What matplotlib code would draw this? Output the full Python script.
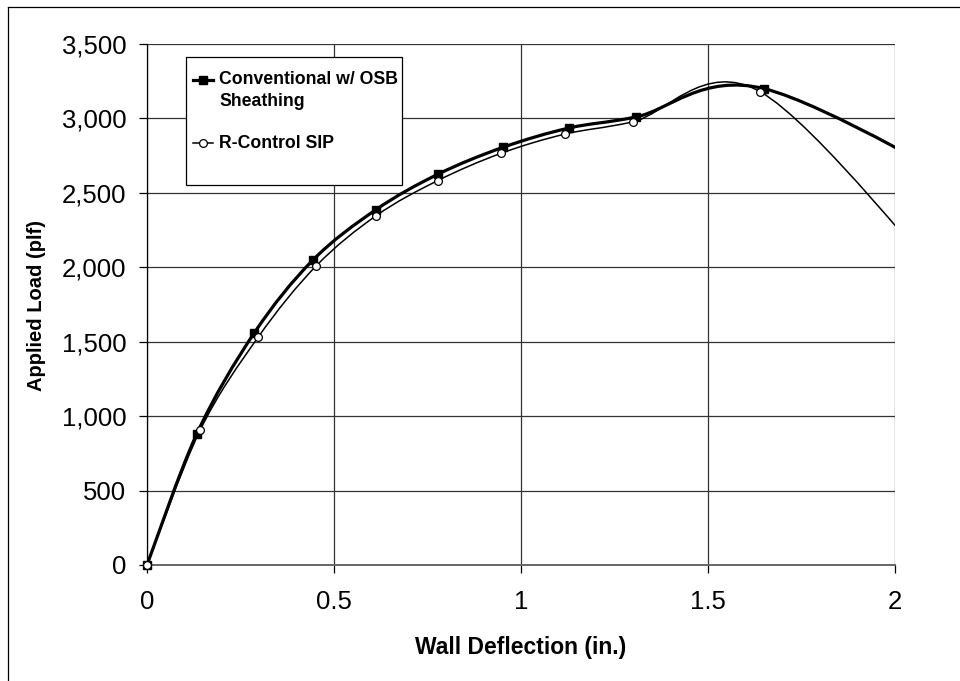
import matplotlib
matplotlib.use("Agg")
import matplotlib.pyplot as plt
from matplotlib.path import Path
from matplotlib.patches import PathPatch, Rectangle
from matplotlib.lines import Line2D
from matplotlib.ticker import FuncFormatter

# --- data (last point of each series lies past the x-axis end) ---
conv_x = [0, 0.133, 0.286, 0.443, 0.611, 0.777, 0.952, 1.129, 1.308, 1.650, 2.30]
conv_y = [0, 880, 1556, 2047, 2385, 2624, 2806, 2936, 3010, 3200, 2400]

sip_x = [0, 0.142, 0.297, 0.453, 0.613, 0.777, 0.947, 1.118, 1.299, 1.639, 2.20]
sip_y = [0, 905, 1530, 2011, 2347, 2582, 2766, 2895, 2977, 3180, 1700]

conv_label = "Conventional w/ OSB\nSheathing"
sip_label = "R-Control SIP"

x_ticks = [0, 0.5, 1, 1.5, 2]
y_ticks = [0, 500, 1000, 1500, 2000, 2500, 3000, 3500]
x_max = 2
y_max = 3500

plt.rcParams["font.family"] = ["Liberation Sans", "DejaVu Sans"]


def smooth_path(xs, ys):
    """Excel-style smoothed line: cubic Bezier through every point (tension 1/6)."""
    pts = list(zip(xs, ys))
    n = len(pts)
    verts = [pts[0]]
    codes = [Path.MOVETO]
    for i in range(n - 1):
        p0 = pts[i - 1] if i > 0 else pts[i]
        p1 = pts[i]
        p2 = pts[i + 1]
        p3 = pts[i + 2] if i + 2 < n else pts[i + 1]
        c1 = (p1[0] + (p2[0] - p0[0]) / 6, p1[1] + (p2[1] - p0[1]) / 6)
        c2 = (p2[0] - (p3[0] - p1[0]) / 6, p2[1] - (p3[1] - p1[1]) / 6)
        verts += [c1, c2, p2]
        codes += [Path.CURVE4] * 3
    return Path(verts, codes)


fig = plt.figure(figsize=(9.6, 6.81), dpi=100)
ax = fig.add_axes([147 / 960, 1 - 565 / 681, 748 / 960, 521 / 681])

# outer chart-area border (only top and left edges are inside the image)
fig.add_artist(Line2D([8 / 960, 8 / 960], [0, 1 - 7 / 681], color="black", lw=0.9,
                      transform=fig.transFigure))
fig.add_artist(Line2D([8 / 960, 1], [1 - 7 / 681, 1 - 7 / 681], color="black", lw=0.9,
                      transform=fig.transFigure))

ax.set_xlim(0, x_max)
ax.set_ylim(0, y_max)
ax.set_xticks(x_ticks)
ax.set_yticks(y_ticks)
ax.xaxis.set_major_formatter(FuncFormatter(lambda v, p: f"{v:g}"))
ax.yaxis.set_major_formatter(FuncFormatter(lambda v, p: f"{int(v):,}"))

ax.grid(True, color="#333333", lw=0.9)
ax.set_axisbelow(True)
for side in ["top", "right"]:
    ax.spines[side].set_visible(False)
ax.spines["left"].set_color("black")
ax.spines["left"].set_linewidth(0.9)
ax.spines["bottom"].set_color("#666666")
ax.spines["bottom"].set_linewidth(1.4)

ax.tick_params(axis="both", direction="out", length=6, width=0.9, color="black",
               labelsize=18.5)
ax.tick_params(axis="y", pad=9)
ax.tick_params(axis="x", pad=12)

# curves
ax.add_patch(PathPatch(smooth_path(conv_x, conv_y), fill=False, lw=2.3,
                       edgecolor="black", zorder=3))
ax.add_patch(PathPatch(smooth_path(sip_x, sip_y), fill=False, lw=1.1,
                       edgecolor="black", zorder=3))

# markers only for points inside the axis range (unclipped so the origin shows)
conv_in = [i for i, v in enumerate(conv_x) if v <= x_max]
sip_in = [i for i, v in enumerate(sip_x) if v <= x_max]
ax.plot(conv_x, conv_y, linestyle="none", marker="s", ms=5.8, mfc="black",
        mec="black", markevery=conv_in, clip_on=False, zorder=4)
ax.plot(sip_x, sip_y, linestyle="none", marker="o", ms=5.6, mfc="white",
        mec="black", mew=0.9, markevery=sip_in, clip_on=False, zorder=4)

ax.set_xlabel("Wall Deflection (in.)", fontsize=16.5, fontweight="bold", va="center")
ax.xaxis.set_label_coords(0.5, -0.159)
ax.set_ylabel("Applied Load (plf)", fontsize=14.5, fontweight="bold", va="center")
ax.yaxis.set_label_coords(-0.148, 0.499)


# legend drawn by hand to match the boxed layout
def ax_xy(px, py):
    return (px - 147) / 748, (565 - py) / 521


lx0, ly0 = ax_xy(186, 185)
lx1, ly1 = ax_xy(402, 57)
ax.add_patch(Rectangle((lx0, ly0), lx1 - lx0, ly1 - ly0, transform=ax.transAxes,
                       facecolor="white", edgecolor="black", lw=0.9, zorder=5))

hx0, _ = ax_xy(193, 0)
hx1, _ = ax_xy(213, 0)
hxm = (hx0 + hx1) / 2
tx, _ = ax_xy(219, 0)

_, y1 = ax_xy(0, 80)
ax.plot([hx0, hx1], [y1, y1], color="black", lw=2.3, transform=ax.transAxes, zorder=6)
ax.plot([hxm], [y1], marker="s", ms=5.8, color="black", transform=ax.transAxes, zorder=7)
ax.text(tx, ax_xy(0, 71)[1], conv_label, transform=ax.transAxes, fontsize=12.7,
        fontweight="bold", va="top", ha="left", zorder=7, linespacing=1.38)

_, y2 = ax_xy(0, 143)
ax.plot([hx0, hx1], [y2, y2], color="black", lw=1.1, transform=ax.transAxes, zorder=6)
ax.plot([hxm], [y2], marker="o", ms=5.6, mfc="white", mec="black", mew=0.9,
        transform=ax.transAxes, zorder=7)
ax.text(tx, y2, sip_label, transform=ax.transAxes, fontsize=12.7, fontweight="bold",
        va="center", ha="left", zorder=7)

fig.savefig("out.png", dpi=100, facecolor="white")
